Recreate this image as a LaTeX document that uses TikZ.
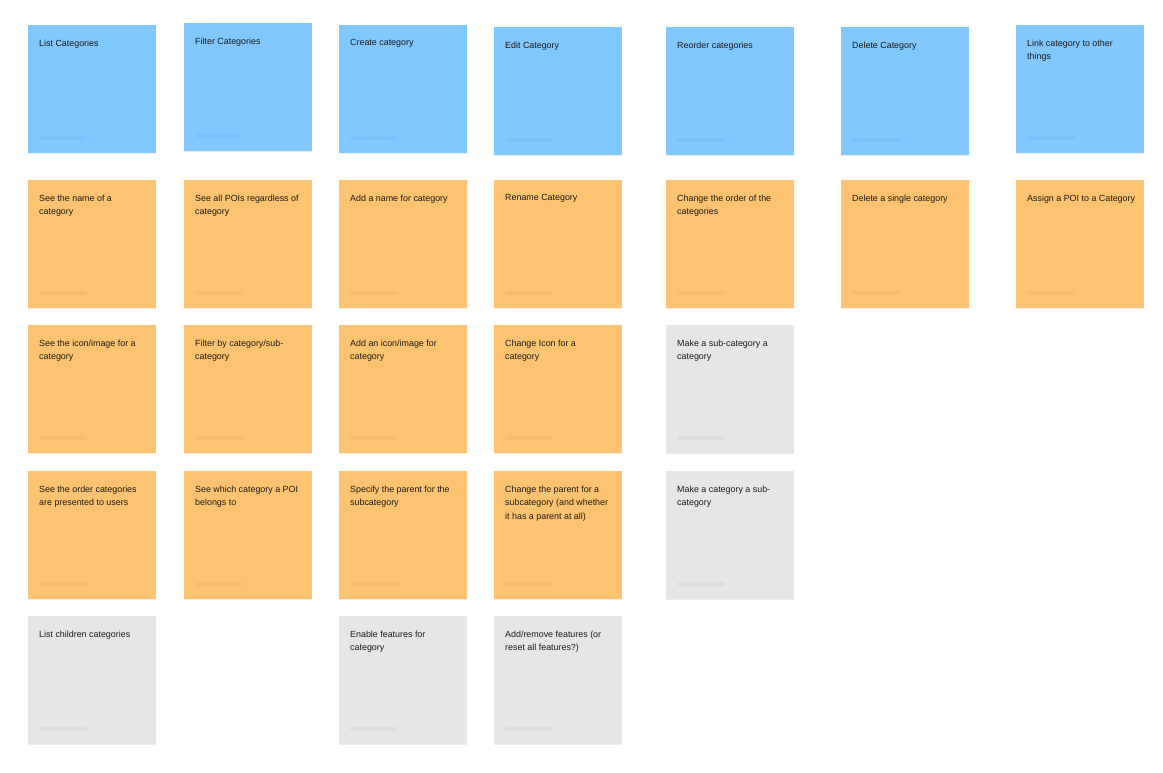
\documentclass[tikz,border=0pt]{standalone}
\usepackage{fontspec}
\setmainfont{Liberation Sans}
\usetikzlibrary{shadows}
\definecolor{stblue}{HTML}{80C8FF}
\definecolor{storange}{HTML}{FEC370}
\definecolor{stgray}{HTML}{E6E6E6}
\definecolor{sttext}{HTML}{1A1A1A}
\tikzset{
  sticky/.style={rectangle, draw=none, minimum width=128pt, minimum height=128pt, inner sep=0pt, anchor=north west,
    drop shadow={shadow xshift=0pt, shadow yshift=-1pt, opacity=0.07, fill=black}},
  lbl/.style={anchor=north west, inner sep=0pt, align=left, text=sttext, font=\fontsize{8.9}{13.6}\selectfont},
  authorbar/.style={fill=black, opacity=0.03, rounded corners=2pt}
}
\newcommand\mysticky[5]{%
  \node[sticky, fill=#4] (#1) at (#2,#3) {};
  \node[lbl] (#1t) at ([xshift=11pt,yshift=-14.5pt]#1.north west) {#5};
  \fill[authorbar] ([xshift=11pt,yshift=-111pt]#1.north west) rectangle ++(48,4);
}
\begin{document}
\begin{tikzpicture}[x=1pt,y=-1pt]
\useasboundingbox (0,0) rectangle (1163,773);
% row 1
\mysticky{a1}{28}{25}{stblue}{List Categories}
\mysticky{a2}{184}{23}{stblue}{Filter Categories}
\mysticky{a3}{339}{25}{stblue}{Create category}
\mysticky{a4}{494}{27}{stblue}{Edit Category}
\mysticky{a5}{666}{27}{stblue}{Reorder categories}
\mysticky{a6}{841}{27}{stblue}{Delete Category}
\mysticky{a7}{1016}{25}{stblue}{Link category to other\\things}
% row 2
\mysticky{b1}{28}{180}{storange}{See the name of a\\category}
\mysticky{b2}{184}{180}{storange}{See all POIs regardless of\\category}
\mysticky{b3}{339}{180}{storange}{Add a name for category}
\mysticky{b4}{494}{180}{storange}{Rename Category}
\mysticky{b5}{666}{180}{storange}{Change the order of the\\categories}
\mysticky{b6}{841}{180}{storange}{Delete a single category}
\mysticky{b7}{1016}{180}{storange}{Assign a POI to a Category}
% row 3
\mysticky{c1}{28}{325}{storange}{See the icon/image for a\\category}
\mysticky{c2}{184}{325}{storange}{Filter by category/sub-\\category}
\mysticky{c3}{339}{325}{storange}{Add an icon/image for\\category}
\mysticky{c4}{494}{325}{storange}{Change Icon for a\\category}
\mysticky{c5}{666}{325}{stgray}{Make a sub-category a\\category}
% row 4
\mysticky{d1}{28}{471}{storange}{See the order categories\\are presented to users}
\mysticky{d2}{184}{471}{storange}{See which category a POI\\belongs to}
\mysticky{d3}{339}{471}{storange}{Specify the parent for the\\subcategory}
\mysticky{d4}{494}{471}{storange}{Change the parent for a\\subcategory (and whether\\it has a parent at all)}
\mysticky{d5}{666}{471}{stgray}{Make a category a sub-\\category}
% row 5
\mysticky{e1}{28}{616}{stgray}{List children categories}
\mysticky{e3}{339}{616}{stgray}{Enable features for\\category}
\mysticky{e4}{494}{616}{stgray}{Add/remove features (or\\reset all features?)}
\end{tikzpicture}
\end{document}
